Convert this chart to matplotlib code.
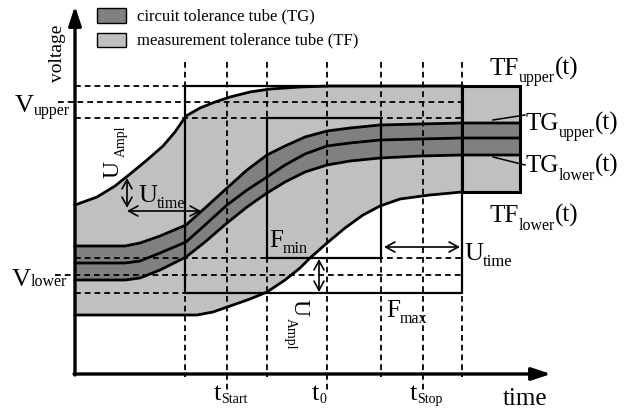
import numpy as np
import matplotlib
matplotlib.use("Agg")
import matplotlib.pyplot as plt
from matplotlib.patches import Rectangle

plt.rcParams['font.family'] = ['Liberation Serif', 'DejaVu Serif']

# ---------------- data (diagram coordinates, pixel space) ----------------
# measurement tolerance tube (TF) upper / lower boundaries
tf_up_x = [75, 97, 115, 130, 147, 163, 175, 186, 200, 215, 230, 250, 270, 300, 330, 362, 462, 520]
tf_up_y = [205, 197, 186, 174, 160, 146, 132, 116, 108, 102, 97, 92, 89, 87, 86, 86, 86, 86]
tf_lo_x = [75, 197, 213, 233, 250, 267, 285, 300, 310, 327, 345, 363, 380, 400, 430, 462, 520]
tf_lo_y = [315, 315, 312, 305, 299, 292, 280, 268, 258, 243, 228, 215, 206, 199, 195, 192, 192]

# circuit tolerance tube (TG): upper, middle (nominal) and lower curves
tg_x = [75, 125, 140, 160, 186, 205, 227, 247, 267, 285, 305, 327, 350, 380, 420, 462, 520]
tg_upper = [246, 246, 243, 236, 225, 208, 188, 170, 155, 146, 137, 131, 128, 125, 124, 123, 123]
tg_mid = [263, 263, 261, 253, 242, 225, 205, 190, 177, 165, 154, 146, 143, 140, 139, 138, 138]
tg_lower = [280, 280, 278, 270, 257, 242, 223, 207, 193, 182, 172, 165, 161, 158, 156, 155, 155]

# time marks (vertical guide lines) and voltage levels (horizontal guides)
t_marks = [185, 227, 267, 327, 381, 423, 462]
t_long = [227, 327, 423]            # t_Start, t_0, t_Stop
v_levels = [86, 102, 118, 258, 275, 293]

# tolerance boxes: (x0, x1, y0, y1)
fmax_box = (185, 462, 86, 293)
fmin_box = (267, 381, 118, 258)
end_box = (462, 520, 86, 192)

light = '#c0c0c0'
dark = '#808080'

# ---------------- figure ----------------
fig = plt.figure(figsize=(6.34, 4.09), dpi=100)
ax = fig.add_axes([0, 0, 1, 1])
ax.set_xlim(0, 634)
ax.set_ylim(409, 0)
ax.axis('off')
renderer = fig.canvas.get_renderer()

# fills
ax.fill(np.concatenate([tf_up_x, tf_lo_x[::-1]]),
        np.concatenate([tf_up_y, tf_lo_y[::-1]]), color=light, lw=0, zorder=1)
ax.fill_between(tg_x, tg_upper, tg_lower, color=dark, lw=0, zorder=1.5)

dash = dict(color='k', lw=1.3, linestyle=(0, (3.2, 2.2)), zorder=2)
solid = dict(color='k', lw=1.6, zorder=3)

# vertical dashed guides
for x in t_marks:
    bottom = 390 if x in t_long else 377
    ax.plot([x, x], [62, bottom], **dash)

# horizontal dashed guides
x_left = {86: 75, 102: 58, 118: 75, 258: 75, 275: 55, 293: 75}
for y in v_levels:
    ax.plot([x_left[y], 462], [y, y], **dash)

# boxes (solid)
for (x0, x1, y0, y1) in (fmax_box, fmin_box):
    ax.plot([x0, x1, x1, x0, x0], [y0, y0, y1, y1, y0], **solid)
ax.add_patch(Rectangle((end_box[0], end_box[2]), end_box[1] - end_box[0],
                       end_box[3] - end_box[2], fill=False, lw=2.2, ec='k', zorder=3))

# curves
cur = dict(color='k', lw=2.0, zorder=4, solid_joinstyle='round')
ax.plot(tf_up_x[:-1], tf_up_y[:-1], **cur)
ax.plot(tf_lo_x[:-1], tf_lo_y[:-1], **cur)
ax.plot(tg_x, tg_upper, **cur)
ax.plot(tg_x, tg_mid, **cur)
ax.plot(tg_x, tg_lower, **cur)

# axes with arrows
axarrow = dict(arrowstyle='-|>,head_length=1.15,head_width=0.38', lw=2.4, color='k',
               shrinkA=0, shrinkB=0, mutation_scale=10)
ax.annotate('', xy=(75, 6), xytext=(75, 375), arrowprops=axarrow, zorder=5)
ax.annotate('', xy=(551, 374), xytext=(74, 374), arrowprops=axarrow, zorder=5)

# double arrows
dbl = dict(arrowstyle='<->,head_length=0.55,head_width=0.3', lw=1.2, color='k',
           shrinkA=0, shrinkB=0, mutation_scale=12)
ax.annotate('', xy=(127, 178), xytext=(127, 208), arrowprops=dbl, zorder=5)
ax.annotate('', xy=(127, 211), xytext=(201, 211), arrowprops=dbl, zorder=5)
ax.annotate('', xy=(319, 259), xytext=(319, 292), arrowprops=dbl, zorder=5)
ax.annotate('', xy=(384, 247), xytext=(460, 247), arrowprops=dbl, zorder=5)

# leader lines for TG labels
ax.plot([493, 525], [120, 115], color='k', lw=1.1, zorder=5)
ax.plot([493, 525], [157, 165], color='k', lw=1.1, zorder=5)

# legend
ax.add_patch(Rectangle((97, 8), 29, 15, fc=dark, ec='k', lw=1.0, zorder=5))
ax.add_patch(Rectangle((97, 33), 29, 14, fc=light, ec='k', lw=1.0, zorder=5))
ax.text(137, 16, 'circuit tolerance tube (TG)', fontsize=12, va='center', ha='left', zorder=6)
ax.text(137, 40.5, 'measurement tolerance tube (TF)', fontsize=12, va='center', ha='left', zorder=6)

BIG = 18
SUB = 11.5


def lab(x, y, s, size, rot=0):
    return ax.text(x, y, s, fontsize=size, ha='left', va='baseline', rotation=rot,
                   rotation_mode='anchor', zorder=6)


def chain(x, y, parts):
    """Place pieces of a label one after another; parts = (text, size, dy)."""
    for s, size, dy in parts:
        t = lab(x, y + dy, s, size)
        bb = t.get_window_extent(renderer)
        x += bb.width  # 1 data unit == 1 pixel


# axis labels
lab(62, 82, 'voltage', 14, rot=90)
lab(503, 405, 'time', 18)

# voltage levels
chain(15, 112, [('V', 19, 0), ('upper', SUB, 3)])
chain(12, 286, [('V', 19, 0), ('lower', SUB, 0)])

# right-hand curve labels
chain(489, 75, [('TF', BIG, 0), ('upper', SUB, 7), ('(t)', BIG, 0)])
chain(525, 130, [('TG', BIG, 0), ('upper', SUB, 7), ('(t)', BIG, 0)])
chain(525, 172, [('TG', BIG, 0), ('lower', SUB, 8), ('(t)', BIG, 0)])
chain(489, 222, [('TF', BIG, 0), ('lower', SUB, 8), ('(t)', BIG, 0)])

# tolerance annotations
lab(118, 178, 'U', 17, rot=90); lab(125, 157, 'Ampl', 10, rot=90)
chain(138, 202, [('U', 19, 0), ('time', SUB, 6)])
chain(269, 247, [('F', BIG, 0), ('min', SUB, 6)])
lab(293, 299, 'U', 17, rot=-90); lab(287, 318, 'Ampl', 10, rot=-90)
chain(464, 260, [('U', 19, 0), ('time', 12, 6)])
chain(386, 317, [('F', BIG, 0), ('max', SUB, 6)])

# time marks
chain(214, 400, [('t', 19, 0), ('Start', 10, 3)])
chain(312, 400, [('t', 19, 0), ('0', 10, 3)])
chain(410, 400, [('t', 19, 0), ('Stop', 10, 3)])

fig.savefig('out.png', dpi=100)
